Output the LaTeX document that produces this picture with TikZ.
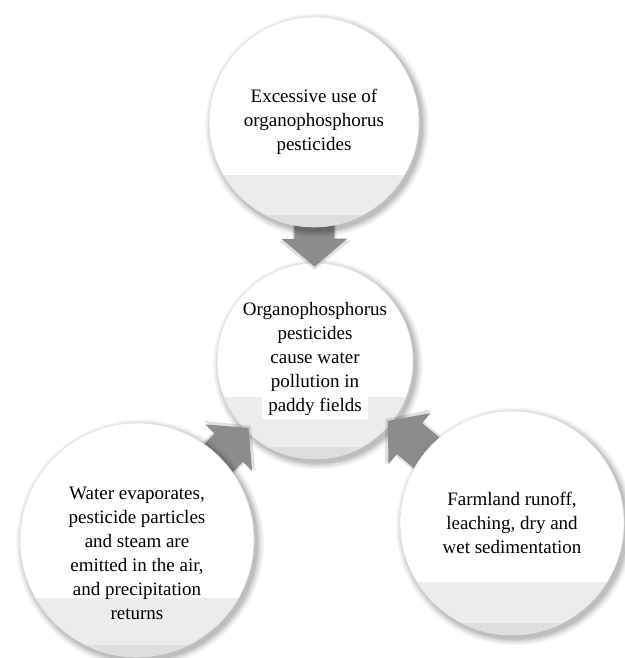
\documentclass[tikz,border=0pt]{standalone}
\usepackage{fontspec}
\setmainfont{Liberation Serif}
\usetikzlibrary{calc}
\pgfdeclarelayer{back}
\pgfdeclarelayer{arrowlayer}
\pgfsetlayers{back,arrowlayer,main}
\definecolor{band}{HTML}{ECECEC}
\definecolor{bandlow}{HTML}{DEDEDE}
\definecolor{arrowgray}{HTML}{8C8C8C}
\newcommand\softshadow[2]{%
  \foreach \k/\o in {7/0.035, 5.5/0.045, 4/0.055, 2.5/0.065, 1/0.08}
    \fill[black, opacity=\o] ([xshift=3pt,yshift=-3.5pt]#1) circle ({#2+\k});}
\tikzset{
  bubble/.style 2 args={circle, minimum size=#1, inner sep=0pt, fill=white,
    draw=black!12, line width=0.6pt,
    path picture={
      \fill[band] ([yshift=12pt]path picture bounding box.south west) rectangle ([yshift=#2]path picture bounding box.south east);
      \fill[bandlow] (path picture bounding box.south west) rectangle ([yshift=12pt]path picture bounding box.south east);
    },
    align=center, font=\fontsize{19}{24}\selectfont},
  blockarrow/.style={fill=arrowgray, draw=none},
  arrowshade/.style={fill=black, opacity=0.12, draw=none},
  grayarrow/.pic={
    \fill[arrowshade] (-75pt,-22pt) -- (-22pt,-22pt) -- (-22pt,-36pt) -- (7pt,0pt) -- (-22pt,36pt) -- (-22pt,22pt) -- (-75pt,22pt) -- cycle;
    \fill[blockarrow] (-75pt,-20pt) -- (-24pt,-20pt) -- (-24pt,-33pt) -- (4pt,0pt) -- (-24pt,33pt) -- (-24pt,20pt) -- (-75pt,20pt) -- cycle;}
}
\begin{document}
\begin{tikzpicture}[x=1pt,y=1pt]
\useasboundingbox (0,0) rectangle (624,658);

\coordinate (cmid) at (315,297);
\coordinate (ctop) at (314,536);
\coordinate (cbl) at (137,118);
\coordinate (cbr) at (512,135);

\begin{pgfonlayer}{back}
\fill[white] (0,0) rectangle (624,658);
\softshadow{cmid}{98}
\node[bubble={196pt}{62pt}] (mid) at (cmid)
  {Organophosphorus\\pesticides\\cause water\\pollution in\\{\setlength{\fboxsep}{0pt}\colorbox{white}{\strut\hspace{6pt}paddy fields\hspace{6pt}}}};
\end{pgfonlayer}

\softshadow{ctop}{105}
\node[bubble={210pt}{52pt}] (top) at (ctop)
  {Excessive use of\\organophosphorus\\pesticides};
\softshadow{cbl}{117}
\node[bubble={234pt}{59pt}] (bl) at (cbl)
  {\rule{0pt}{40pt}Water evaporates,\\pesticide particles\\and steam are\\emitted in the air,\\and precipitation\\returns};
\softshadow{cbr}{112}
\node[bubble={224pt}{53pt}] (br) at (cbr)
  {Farmland runoff,\\leaching, dry and\\wet sedimentation};

\begin{pgfonlayer}{arrowlayer}
\path (top) -- pic[pos=1, sloped, allow upside down] {grayarrow} (mid);
\path (bl) -- pic[pos=1, sloped, allow upside down] {grayarrow} (mid);
\path (br) -- pic[pos=1, sloped, allow upside down] {grayarrow} (mid);
\end{pgfonlayer}
\end{tikzpicture}
\end{document}
